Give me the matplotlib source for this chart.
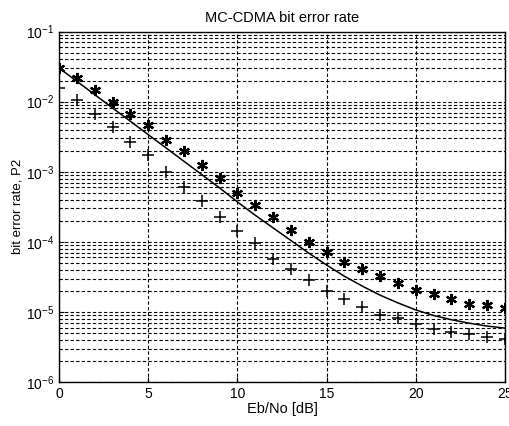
import matplotlib
matplotlib.use("Agg")
import matplotlib.pyplot as plt
import numpy as np

plt.rcParams["font.family"] = ["Liberation Sans", "DejaVu Sans"]

# Eb/No in dB
ebno = np.arange(0, 26)

# simulated BER (asterisks), log10
ber_star_log = [-1.52, -1.66, -1.83, -2.00, -2.17, -2.34, -2.54, -2.71, -2.91, -3.09,
                -3.30, -3.47, -3.65, -3.83, -4.00, -4.15, -4.28, -4.39, -4.49, -4.59,
                -4.69, -4.75, -4.82, -4.88, -4.90, -4.94]
# simulated BER (plus)
ber_plus_log = [-1.80, -1.98, -2.17, -2.36, -2.57, -2.76, -3.01, -3.22, -3.42, -3.64,
                -3.84, -4.02, -4.24, -4.39, -4.55, -4.70, -4.81, -4.93, -5.04, -5.09,
                -5.17, -5.24, -5.29, -5.32, -5.35, -5.38]
# theoretical curve
ber_theory_log = [-1.52, -1.71, -1.90, -2.09, -2.28, -2.47, -2.66, -2.85, -3.04, -3.23,
                  -3.43, -3.62, -3.80, -3.98, -4.16, -4.33, -4.49, -4.63, -4.76, -4.87,
                  -4.97, -5.05, -5.11, -5.16, -5.20, -5.23]

ber_star = 10.0 ** np.array(ber_star_log)
ber_plus = 10.0 ** np.array(ber_plus_log)
ber_theory = 10.0 ** np.array(ber_theory_log)

fig = plt.figure(figsize=(5.09, 4.26), dpi=100)
ax = fig.add_axes([0.116, 0.103, 0.876, 0.823])

ax.semilogy(ebno, ber_theory, "k-", lw=1.1)
ax.semilogy(ebno, ber_star, "k", ls="none", marker=(6, 2, 0), ms=8, mew=1.6)
ax.semilogy(ebno, ber_plus, "k+", ms=8, mew=1.1)

ax.set_xlim(0, 25)
ax.set_ylim(1e-6, 1e-1)
ax.set_xticks([0, 5, 10, 15, 20, 25])
ax.grid(True, which="major", color="k", ls=(0, (3, 2)), lw=0.8)
ax.grid(True, which="minor", axis="y", color="k", ls=(0, (3, 2)), lw=0.8)
ax.tick_params(which="both", direction="in", labelsize=10, color="k")
ax.tick_params(axis="x", which="minor", bottom=False)
for s in ax.spines.values():
    s.set_color("k")
    s.set_linewidth(1.0)

ax.set_title("MC-CDMA bit error rate", fontsize=10.5, pad=7)
ax.set_xlabel("Eb/No [dB]", fontsize=10.5, labelpad=1)
ax.set_ylabel("bit error rate, P2", fontsize=9.5, labelpad=2)

fig.savefig("out.png", dpi=100)
